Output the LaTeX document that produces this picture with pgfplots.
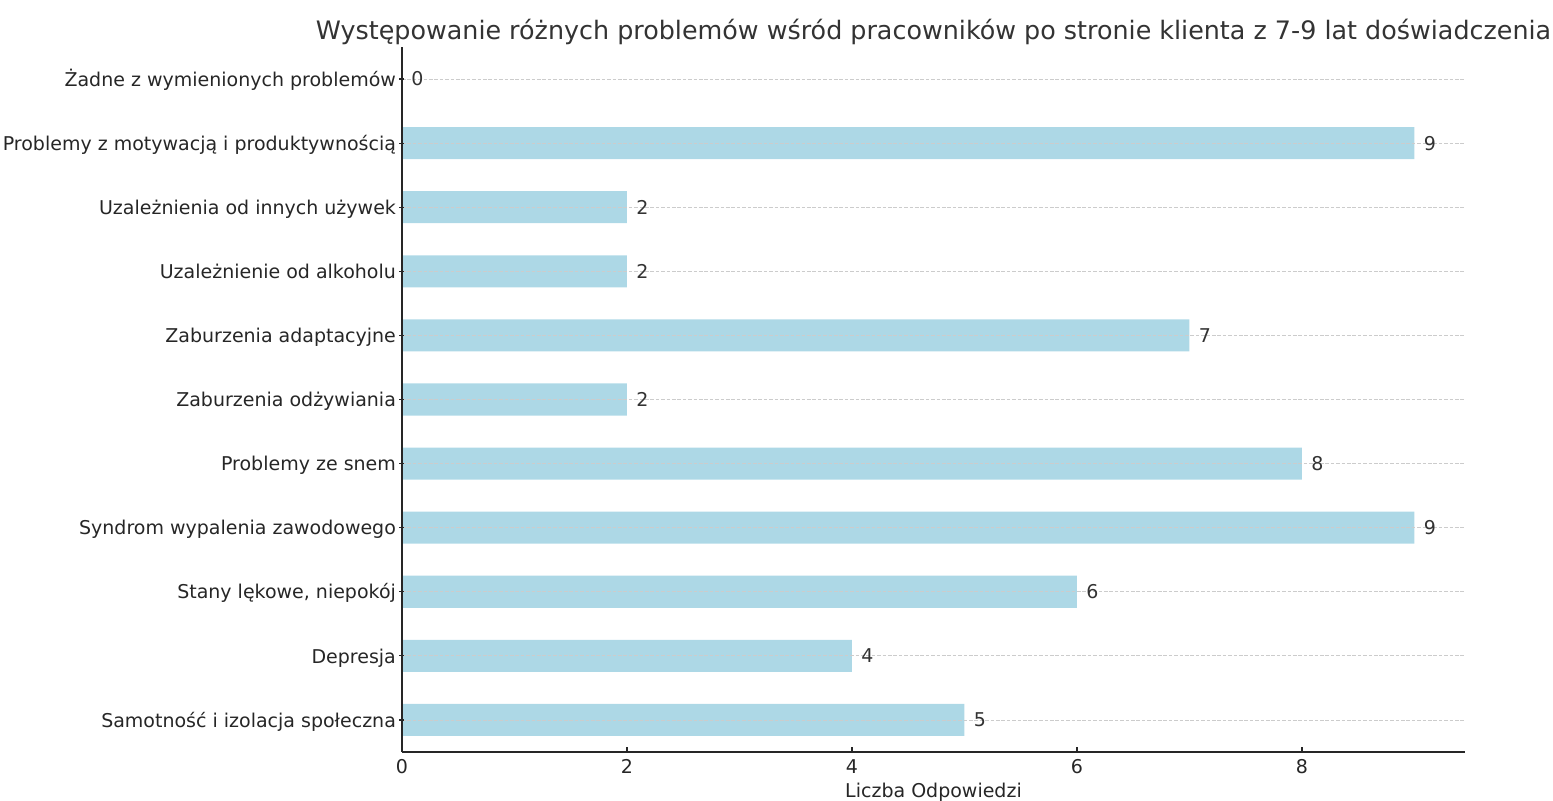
\documentclass[border=0pt]{standalone}
\usepackage{pgfplots}
\pgfplotsset{compat=1.18}
\usepackage{fontspec}
\setmainfont{DejaVu Sans}
\definecolor{barblue}{HTML}{ADD8E6}
\definecolor{gridgray}{HTML}{CCCCCC}
\definecolor{spine}{HTML}{262626}
\definecolor{txt}{HTML}{262626}
\definecolor{ttl}{HTML}{333333}
\begin{document}
\begin{tikzpicture}
\useasboundingbox (-201pt,-24.5pt) rectangle (575.5pt,376pt);
\begin{axis}[
  at={(0,0)}, anchor=south west,
  scale only axis, width=531.5pt, height=352.5pt,
  xbar, bar width=0.5,
  xmin=0, xmax=9.45, ymin=-0.5, ymax=10.5,
  axis x line*=bottom, axis y line*=left,
  axis line style={color=spine, line width=0.75pt},
  axis on top,
  xtick={0,2,4,6,8},
  ytick={0,...,10},
  yticklabels={Samotność i izolacja społeczna, Depresja, {Stany lękowe, niepokój}, Syndrom wypalenia zawodowego\hspace{0.318em}, Problemy ze snem, Zaburzenia odżywiania, Zaburzenia adaptacyjne, Uzależnienie od alkoholu, Uzależnienia od innych używek, Problemy z motywacją i produktywnością, Żadne z wymienionych problemów},
  tick style={color=spine, line width=0.6pt},
  major tick length=2.5pt,
  xtick align=inside, ytick align=center,
  ymajorgrids,
  major grid style={color=gridgray, dash pattern=on 1.8pt off 0.9pt, line width=0.4pt},
  ticklabel style={font=\fontsize{9.5}{11}\selectfont, color=txt},
  /pgf/number format/assume math mode=true,
  yticklabel style={inner sep=0pt, anchor=base east, xshift=-1.6pt, yshift=-3.6pt},
  xticklabel style={inner sep=0pt, yshift=-3.5pt},
  xlabel={Liczba Odpowiedzi},
  xlabel style={font=\fontsize{9.5}{11}\selectfont, color=txt, at={(0.5,0)}, anchor=base, yshift=-23pt, inner sep=0pt},
  title={Występowanie różnych problemów wśród pracowników po stronie klienta z 7-9 lat doświadczenia},
  title style={font=\fontsize{12.7}{14}\selectfont, color=ttl, at={(0.5,1)}, anchor=base, yshift=-2.5pt, inner sep=0pt},
  nodes near coords,
  nodes near coords style={anchor=west, inner sep=0pt, xshift=4.5pt, font=\fontsize{9.5}{11}\selectfont, color=ttl, /pgf/number format/assume math mode=true},
]
\addplot[fill=barblue, draw=none] coordinates {
(5,0) (4,1) (6,2) (9,3) (8,4) (2,5) (7,6) (2,7) (2,8) (9,9) (0,10)
};
\end{axis}
\end{tikzpicture}
\end{document}
